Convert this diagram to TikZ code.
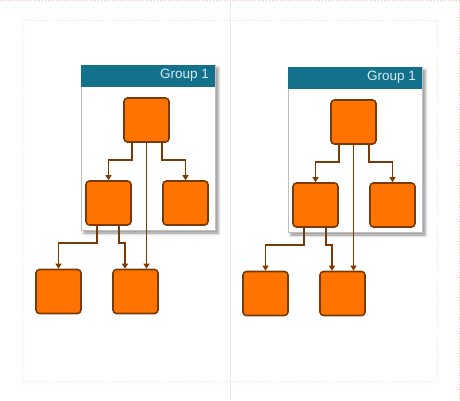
\documentclass[tikz,border=0pt]{standalone}
\usepackage{fontspec}
\setsansfont{Liberation Sans}
\usetikzlibrary{positioning,arrows.meta,shadows,shadows.blur}
\definecolor{boxorange}{HTML}{FF7300}
\definecolor{boxbrown}{HTML}{7A3A05}
\definecolor{headteal}{HTML}{13718C}
\definecolor{headtext}{HTML}{D6EAF2}
\tikzset{
  block/.style={
    rectangle,
    rounded corners=3.5pt,
    draw=boxbrown,
    fill=boxorange,
    line width=1.6pt,
    minimum width=45pt,
    minimum height=44pt,
    inner sep=0pt
  },
  link/.style={
    draw=boxbrown,
    line width=1.6pt,
    -{Triangle[length=5pt,width=6pt]}
  },
  grpbox/.style={
    rectangle,
    draw=black!25,
    fill=white,
    line width=0.8pt,
    minimum width=134pt,
    minimum height=165pt,
    inner sep=0pt,
    blur shadow={shadow xshift=3pt,shadow yshift=-3pt,
                 shadow blur radius=3pt,shadow opacity=45}
  },
  grphead/.style={
    rectangle,
    fill=headteal,
    minimum width=134pt,
    minimum height=22pt,
    inner sep=0pt
  }
}

\begin{document}
\begin{tikzpicture}[x=1pt,y=-1pt]
\useasboundingbox (0,0) rectangle (460,400);

% page guides
\draw[black!7,line width=0.8pt] (230,0) -- (230,400);
\draw[orange!25,dotted,line width=0.8pt] (22,20) rectangle (437,381);
\draw[red!25,dotted,line width=0.8pt] (0,0.5) -- (459.5,0.5) -- (459.5,400);

\foreach \p/\dx/\dy in {a/0/0,b/207/2}{
\begin{scope}[shift={(\dx,\dy)}]
% group frame
\node[grpbox] (\p-grp) at (148,147.5) {};
\node[grphead,anchor=north] (\p-head) at (\p-grp.north) {};
\node[anchor=east,text=headtext,inner sep=0pt,
      font=\sffamily\fontsize{13.5}{15}\selectfont]
  (\p-title) at ([xshift=-6pt,yshift=0.5pt]\p-head.east) {Group 1};

% blocks
\node[block] (\p-top) at (146.5,120) {};
\node[block] (\p-ml) at (108.5,203) {};
\node[block] (\p-mr) at (185.5,203) {};
\node[block] (\p-bl) at (58.5,291.5) {};
\node[block] (\p-br) at (135.5,291.5) {};

% links
\draw[link] ([xshift=-14.5pt]\p-top.south) -- ++(0,17) -| (\p-ml.north);
\draw[link] ([xshift=15.5pt]\p-top.south) -- ++(0,17) -| (\p-mr.north);
\draw[link] (\p-top.south) -- (\p-top.south |- \p-br.north);
\draw[link] ([xshift=-11.5pt]\p-ml.south) -- ++(0,17) -| (\p-bl.north);
\draw[link] ([xshift=10.5pt]\p-ml.south) -- ++(0,17)
  -| ([xshift=-10.5pt]\p-br.north);
\end{scope}
}
\end{tikzpicture}
\end{document}
